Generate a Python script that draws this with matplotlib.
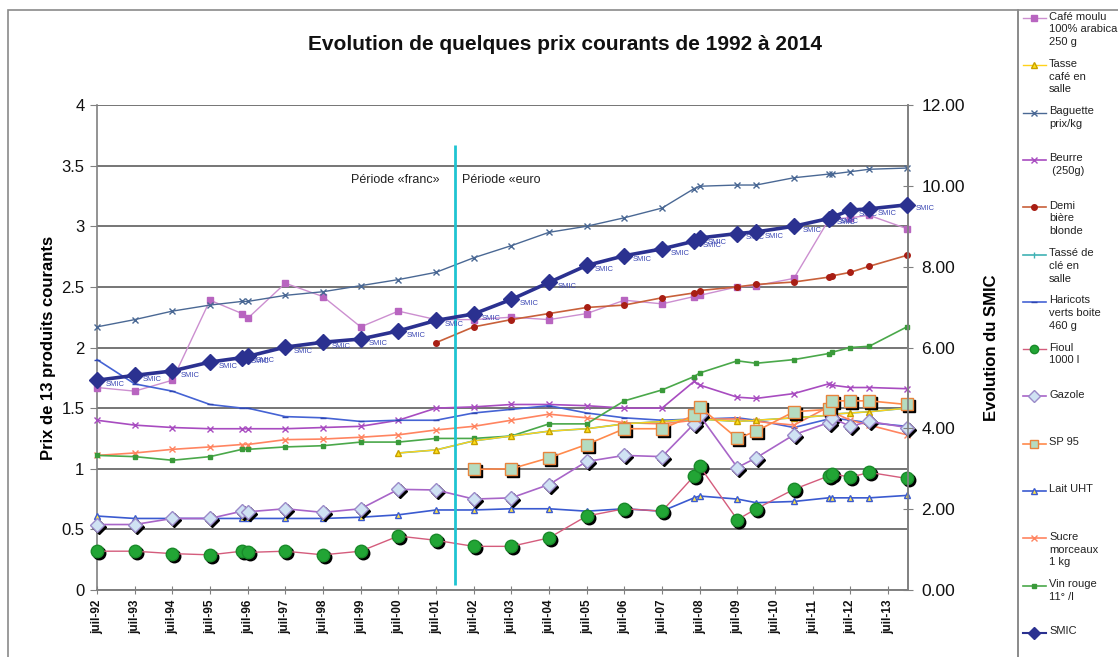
import numpy as np
import matplotlib
matplotlib.use("Agg")
import matplotlib.pyplot as plt
from matplotlib.lines import Line2D
from matplotlib.patches import Rectangle
from matplotlib.transforms import offset_copy

plt.rcParams['font.family'] = ['Liberation Sans', 'DejaVu Sans']

nan = np.nan

# dates of the price readings (decimal years, juil = .5)
dates = [1992.5, 1993.5, 1994.5, 1995.5, 1996.35, 1996.5, 1997.5, 1998.5, 1999.5,
         2000.5, 2001.5, 2002.5, 2003.5, 2004.5, 2005.5, 2006.5, 2007.5, 2008.35,
         2008.5, 2009.5, 2010.0, 2011.0, 2011.92, 2012.0, 2012.5, 2013.0, 2014.0]

tick_pos = [1992.5, 1993.5, 1994.5, 1995.5, 1996.5, 1997.5, 1998.5, 1999.5, 2000.5,
            2001.5, 2002.5, 2003.5, 2004.5, 2005.5, 2006.5, 2007.5, 2008.5, 2009.5,
            2010.5, 2011.5, 2012.5, 2013.5]
tick_labels = ['juil-92', 'juil-93', 'juil-94', 'juil-95', 'juil-96', 'juil-97',
               'juil-98', 'juil-99', 'juil-00', 'juil-01', 'juil-02', 'juil-03',
               'juil-04', 'juil-05', 'juil-06', 'juil-07', 'juil-08', 'juil-09',
               'juil-10', 'juil-11', 'juil-12', 'juil-13']

cafe_moulu = [1.67, 1.64, 1.73, 2.39, 2.28, 2.24, 2.53, 2.42, 2.17, 2.30, 2.23, 2.23, 2.25,
              2.23, 2.28, 2.39, 2.36, 2.42, 2.43, 2.50, 2.51, 2.57, 3.05, 3.06, 3.07, 3.09, 2.98]
tasse_cafe = [nan, nan, nan, nan, nan, nan, nan, nan, nan, 1.13, 1.155, 1.23, 1.27, 1.31,
              1.33, 1.37, 1.39, 1.41, 1.41, 1.39, 1.40, 1.42, 1.44, 1.45, 1.46, 1.47, 1.50]
baguette = [2.17, 2.23, 2.30, 2.35, 2.38, 2.38, 2.43, 2.46, 2.51, 2.56, 2.62, 2.74, 2.84,
            2.95, 3.00, 3.07, 3.15, 3.31, 3.33, 3.34, 3.34, 3.40, 3.43, 3.43, 3.45, 3.47, 3.48]
beurre = [1.40, 1.36, 1.34, 1.33, 1.33, 1.33, 1.33, 1.34, 1.35, 1.40, 1.50, 1.51, 1.53,
          1.53, 1.52, 1.50, 1.50, 1.72, 1.69, 1.59, 1.58, 1.62, 1.70, 1.69, 1.67, 1.67, 1.66]
demi_biere = [nan, nan, nan, nan, nan, nan, nan, nan, nan, nan, 2.04, 2.17, 2.23, 2.28,
              2.33, 2.35, 2.41, 2.45, 2.47, 2.50, 2.52, 2.54, 2.58, 2.59, 2.62, 2.67, 2.76]
tasse_de_cafe = [nan, nan, nan, nan, nan, nan, nan, nan, nan, 1.13, 1.155, 1.23, 1.27, 1.31,
                 1.33, 1.37, 1.39, 1.41, 1.41, 1.39, 1.40, 1.42, 1.44, 1.45, 1.46, 1.47, 1.50]
haricots = [1.90, 1.70, 1.64, 1.53, 1.50, 1.50, 1.43, 1.42, 1.39, 1.40, 1.40, 1.46, 1.49,
            1.52, 1.46, 1.42, 1.40, 1.41, 1.41, 1.42, 1.40, 1.34, 1.41, 1.42, 1.40, 1.38, 1.35]
fioul = [0.32, 0.32, 0.30, 0.29, 0.32, 0.31, 0.32, 0.29, 0.32, 0.445, 0.41, 0.36, 0.36,
         0.43, 0.61, 0.67, 0.65, 0.94, 1.02, 0.58, 0.67, 0.83, 0.94, 0.96, 0.93, 0.97, 0.92]
gazole = [0.54, 0.54, 0.59, 0.59, 0.65, 0.645, 0.67, 0.64, 0.67, 0.83, 0.825, 0.75, 0.76,
          0.87, 1.06, 1.11, 1.10, 1.37, 1.44, 1.01, 1.09, 1.28, 1.38, 1.42, 1.35, 1.39, 1.34]
sp95 = [nan, nan, nan, nan, nan, nan, nan, nan, nan, nan, nan, 0.995, 1.00, 1.09, 1.20,
        1.33, 1.33, 1.44, 1.51, 1.25, 1.31, 1.47, 1.49, 1.56, 1.56, 1.56, 1.53]
lait_uht = [0.61, 0.59, 0.59, 0.59, 0.59, 0.59, 0.59, 0.59, 0.60, 0.62, 0.66, 0.66, 0.67,
            0.67, 0.65, 0.67, 0.65, 0.76, 0.775, 0.75, 0.72, 0.73, 0.76, 0.76, 0.76, 0.76, 0.78]
sucre = [1.11, 1.13, 1.16, 1.18, 1.20, 1.20, 1.24, 1.245, 1.26, 1.28, 1.32, 1.35, 1.40,
         1.45, 1.42, 1.38, 1.37, 1.40, 1.41, 1.41, 1.39, 1.36, 1.51, 1.47, 1.40, 1.36, 1.28]
vin_rouge = [1.11, 1.10, 1.07, 1.10, 1.16, 1.16, 1.18, 1.19, 1.22, 1.22, 1.25, 1.25, 1.27,
             1.37, 1.37, 1.56, 1.65, 1.76, 1.79, 1.89, 1.87, 1.90, 1.95, 1.96, 2.00, 2.01, 2.17]
smic = [5.19, 5.31, 5.42, 5.64, 5.75, 5.78, 6.01, 6.13, 6.21, 6.41, 6.67, 6.83, 7.19,
        7.61, 8.03, 8.27, 8.44, 8.63, 8.71, 8.82, 8.86, 9.00, 9.19, 9.22, 9.40, 9.43, 9.53]

euro_date = 2002.0

W, H = 1118, 657
fig = plt.figure(figsize=(W / 100, H / 100), dpi=100)
ax = fig.add_axes([97 / W, 1 - 590 / H, (908 - 97) / W, (590 - 105) / H])
ax2 = ax.twinx()

# (label, values, style, shadow, zorder)
series = [
    ("Café moulu\n100% arabica\n250 g", cafe_moulu,
     dict(color='#cc8fd0', lw=1, marker='s', ms=5, mfc='#b865c0', mec='#b865c0'), False, 3),
    ("Tasse\ncafé en\nsalle", tasse_cafe,
     dict(color='#ffd21a', lw=1, marker='^', ms=5, mfc='#ffe11a', mec='#c8a000'), False, 4),
    ("Baguette\nprix/kg", baguette,
     dict(color='#4a6894', lw=1, marker='x', ms=4, mfc='#4a6894', mec='#4a6894'), False, 3),
    ("Beurre\n (250g)", beurre,
     dict(color='#a84cc0', lw=1.2, marker='x', ms=4, mfc='#a84cc0', mec='#a84cc0'), False, 3),
    ("Demi\nbière\nblonde", demi_biere,
     dict(color='#c8603a', lw=1.2, marker='o', ms=4, mfc='#a81e14', mec='#a81e14'), False, 3),
    ("Tassé de\nclé en\nsalle", tasse_de_cafe,
     dict(color='#3fb2b4', lw=1.2, marker='|', ms=4, mfc='#3fb2b4', mec='#3fb2b4'), False, 3.5),
    ("Haricots\nverts boite\n460 g", haricots,
     dict(color='#4563d4', lw=1.2, marker='_', ms=5, mfc='#2f46b0', mec='#2f46b0'), False, 3),
    ("Fioul\n1000 l", fioul,
     dict(color='#d45c7c', lw=1, marker='o', ms=9, mfc='#22a535', mec='#1a8a2a'), True, 6),
    ("Gazole", gazole,
     dict(color='#a865c8', lw=1.2, marker='D', ms=7.5, mfc='#cfe2f3', mec='#9a8ac8'), True, 6),
    ("SP 95", sp95,
     dict(color='#ff8a4c', lw=1.2, marker='s', ms=9, mfc='#b5dcc0', mec='#e8843c'), True, 6),
    ("Lait UHT", lait_uht,
     dict(color='#3a5ad0', lw=1.2, marker='^', ms=5, mfc='#ffe34a', mec='#3a5ad0'), False, 5),
    ("Sucre\nmorceaux\n1 kg", sucre,
     dict(color='#ff8460', lw=1.2, marker='x', ms=4, mfc='#ff8460', mec='#ff8460'), False, 3),
    ("Vin rouge\n11° /l", vin_rouge,
     dict(color='#4aa84a', lw=1.2, marker='s', ms=3, mfc='#3a9a3a', mec='#3a9a3a'), False, 3),
]
smic_style = dict(color='#2b3190', lw=2.6, marker='D', ms=8, mfc='#2b3190', mec='#2b3190')

shadow = offset_copy(ax.transData, fig=fig, x=2, y=-2, units='dots')
for label, vals, st, shad, z in series:
    if shad:
        ax.plot(dates, vals, ls='none', marker=st['marker'], ms=st['ms'], color='black',
                transform=shadow, zorder=z - 0.5, clip_on=False)
    ax.plot(dates, vals, zorder=z, clip_on=False, **st)

ax2.plot(dates, smic, zorder=5, clip_on=False, **smic_style)
for d, v in zip(dates, smic):
    ax2.annotate("SMIC", (d, v), xytext=(6, -3), textcoords='offset points',
                 fontsize=5.5, color='#3c48b4', ha='left', va='center',
                 annotation_clip=False)

# euro changeover
ax.vlines(euro_date, 0.04, 3.67, color='#1fc4d2', lw=2, zorder=7)
ax.text(euro_date - 0.4, 3.38, "Période «franc»", ha='right', va='center', fontsize=9, color='#222222')
ax.text(euro_date + 0.2, 3.38, "Période «euro", ha='left', va='center', fontsize=9, color='#222222')

ax.set_xlim(1992.5, 2014.03)
ax.set_ylim(0, 4)
ax2.set_ylim(0, 12)
ax.set_yticks(np.arange(0, 4.01, 0.5))
ax.set_yticklabels(['0', '0.5', '1', '1.5', '2', '2.5', '3', '3.5', '4'])
ax2.set_yticks(np.arange(0, 12.01, 2))
ax2.set_yticklabels(['%.2f' % v for v in np.arange(0, 12.01, 2)])
ax.set_xticks(tick_pos)
ax.set_xticklabels(tick_labels, rotation=90, fontsize=8.5, fontweight='bold')

ax.grid(axis='y', color='#505050', lw=1.1)
ax.set_axisbelow(True)
for a in (ax, ax2):
    a.spines['top'].set_visible(False)
    for s in a.spines.values():
        s.set_color('#808080')
        s.set_linewidth(1.2)
ax2.spines['left'].set_visible(False)
ax.tick_params(axis='y', labelsize=12, colors='#808080', labelcolor='#111111', length=5, direction='out', pad=4)
ax.tick_params(axis='x', colors='#808080', labelcolor='#111111', length=6, direction='inout', pad=4)
ax2.tick_params(axis='y', labelsize=12.5, colors='#808080', labelcolor='#111111', length=7, direction='inout', pad=6)

ax.set_ylabel("Prix de 13 produits courants", fontsize=12, fontweight='bold', labelpad=4)
ax2.set_ylabel("Evolution du SMIC", fontsize=12, fontweight='bold', labelpad=14)
fig.text(565 / W, 1 - 45 / H, "Evolution de quelques prix courants de 1992 à 2014",
         ha='center', va='center', fontsize=15, fontweight='bold', color='#111111')

# frames
fig.add_artist(Rectangle((8 / W, -0.02), (1018 - 8) / W, 1.02 - 10 / H, transform=fig.transFigure,
                         fill=False, ec='#8a8a8a', lw=1.2))
fig.add_artist(Rectangle((1018 / W, -0.02), 0.2, 1.02 - 10 / H, transform=fig.transFigure,
                         fill=False, ec='#8a8a8a', lw=1.2))

# legend drawn as a column like the spreadsheet one
entries = [(lab, st) for lab, _, st, _, _ in series] + [("SMIC", smic_style)]
for i, (lab, st) in enumerate(entries):
    y = 1 - (18 + i * 47.3) / H
    lst = dict(st)
    lst['ms'] = min(st['ms'], 6)
    lst['lw'] = min(st['lw'], 1.5)
    fig.add_artist(Line2D([1023 / W, 1034 / W, 1046 / W], [y, y, y], transform=fig.transFigure,
                          markevery=[1], **lst))
    fig.text(1049 / W, y + 6.5 / H, lab, ha='left', va='top', fontsize=8, linespacing=1.35,
             color='#222222')

fig.savefig("out.png", dpi=100)
